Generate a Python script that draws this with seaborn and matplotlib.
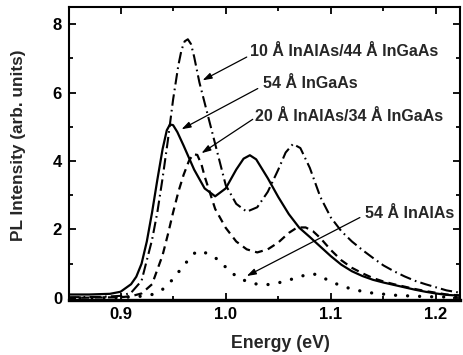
import matplotlib
matplotlib.use("Agg")
import matplotlib.pyplot as plt
import seaborn as sns
import pandas as pd
from matplotlib.ticker import MultipleLocator

# ---- data ----
e_solid = [0.85, 0.87, 0.89, 0.90, 0.91, 0.915, 0.92, 0.925, 0.93, 0.935, 0.94, 0.944, 0.947, 0.950,
           0.954, 0.96, 0.97, 0.98, 0.99, 1.00, 1.01, 1.017, 1.023, 1.029, 1.04, 1.05, 1.06, 1.07,
           1.08, 1.09, 1.10, 1.11, 1.12, 1.13, 1.14, 1.15, 1.16, 1.17, 1.18, 1.19, 1.20, 1.21, 1.225]
i_solid = [0.10, 0.10, 0.12, 0.18, 0.40, 0.62, 1.00, 1.65, 2.50, 3.45, 4.35, 4.90, 5.07, 5.05,
           4.85, 4.45, 3.75, 3.20, 2.97, 3.20, 3.75, 4.07, 4.17, 4.05, 3.50, 2.95, 2.45, 2.05,
           1.78, 1.50, 1.22, 0.97, 0.78, 0.64, 0.53, 0.45, 0.38, 0.31, 0.24, 0.18, 0.13, 0.09, 0.06]

e_dashdot = [0.85, 0.88, 0.90, 0.91, 0.92, 0.925, 0.93, 0.935, 0.94, 0.945, 0.95, 0.955, 0.958, 0.961,
             0.964, 0.967, 0.970, 0.975, 0.98, 0.99, 1.00, 1.01, 1.02, 1.03, 1.04, 1.05, 1.057, 1.064,
             1.071, 1.08, 1.09, 1.10, 1.11, 1.12, 1.13, 1.14, 1.15, 1.16, 1.17, 1.18, 1.19, 1.20,
             1.21, 1.225]
i_dashdot = [0.02, 0.03, 0.06, 0.15, 0.50, 1.10, 1.70, 2.50, 3.50, 4.60, 5.80, 6.80, 7.25, 7.50,
             7.56, 7.42, 7.05, 6.30, 5.70, 4.50, 3.30, 2.75, 2.52, 2.65, 3.10, 3.75, 4.25, 4.50,
             4.38, 3.80, 2.95, 2.35, 1.95, 1.65, 1.40, 1.17, 0.95, 0.78, 0.63, 0.50, 0.40, 0.31,
             0.22, 0.14]

e_dashed = [0.85, 0.90, 0.91, 0.92, 0.93, 0.94, 0.945, 0.95, 0.955, 0.96, 0.965, 0.969, 0.973, 0.977,
            0.98, 0.99, 1.00, 1.01, 1.02, 1.03, 1.04, 1.05, 1.06, 1.068, 1.076, 1.083, 1.09, 1.10,
            1.11, 1.12, 1.13, 1.14, 1.15, 1.16, 1.17, 1.18, 1.19, 1.20, 1.21, 1.225]
i_dashed = [0.00, 0.02, 0.05, 0.13, 0.40, 1.25, 1.85, 2.50, 3.10, 3.60, 4.00, 4.20, 4.18, 3.90,
            3.55, 2.60, 2.05, 1.65, 1.42, 1.33, 1.42, 1.62, 1.90, 2.06, 2.06, 1.95, 1.75, 1.40,
            1.10, 0.88, 0.72, 0.58, 0.48, 0.40, 0.33, 0.26, 0.20, 0.15, 0.10, 0.07]

e_dotted = [0.85, 0.90, 0.92, 0.93, 0.94, 0.95, 0.96, 0.97, 0.975, 0.98, 0.99, 1.00, 1.01, 1.02,
            1.03, 1.04, 1.05, 1.06, 1.07, 1.08, 1.085, 1.09, 1.10, 1.11, 1.12, 1.13, 1.14, 1.15,
            1.16, 1.18, 1.20, 1.225]
i_dotted = [0.00, 0.01, 0.05, 0.10, 0.25, 0.55, 0.95, 1.30, 1.38, 1.33, 1.18, 0.90, 0.63, 0.48,
            0.40, 0.39, 0.44, 0.52, 0.62, 0.70, 0.69, 0.63, 0.48, 0.35, 0.26, 0.19, 0.14, 0.11,
            0.08, 0.05, 0.03, 0.02]

labels = ["10 Å InAlAs/44 Å InGaAs", "54 Å InGaAs", "20 Å InAlAs/34 Å InGaAs", "54 Å InAlAs"]

x_ticks = [0.9, 1.0, 1.1, 1.2]
y_ticks = [0, 2, 4, 6, 8]

# ---- styling ----
sns.set_style("ticks")
plt.rcParams['font.family'] = ['Liberation Sans', 'DejaVu Sans']
plt.rcParams['font.weight'] = 'bold'

fig = plt.figure(figsize=(4.63, 3.55), dpi=100)
ax = fig.add_axes([0.149, 0.155, 0.845, 0.825])

series = [
    (e_dashdot, i_dashdot, labels[0], (0, (5.5, 2.0, 0.8, 2.0)), 1.5),
    (e_solid, i_solid, labels[1], '-', 1.6),
    (e_dashed, i_dashed, labels[2], (0, (3.6, 2.4)), 1.6),
    (e_dotted, i_dotted, labels[3], (0, (0.01, 3.6)), 2.4),
]
for ex, iy, lab, ls, lw in series:
    df = pd.DataFrame({"Energy": ex, "Intensity": iy})
    sns.lineplot(data=df, x="Energy", y="Intensity", ax=ax, color="black",
                 linewidth=lw, estimator=None, sort=True)
    ln = ax.lines[-1]
    ln.set_linestyle(ls)
    ln.set_dash_capstyle('round' if lw > 2 else 'butt')
    ln.set_solid_joinstyle('round')

ax.set_xlim(0.851, 1.223)
ax.set_ylim(-0.06, 8.5)
ax.set_xticks(x_ticks)
ax.set_yticks(y_ticks)
ax.set_xticklabels([f"{v:.1f}" for v in x_ticks])
ax.xaxis.set_minor_locator(MultipleLocator(0.05))
ax.yaxis.set_minor_locator(MultipleLocator(1))
ax.tick_params(which='both', direction='in', top=True, right=True, width=1.3, colors='black')
ax.tick_params(which='major', length=5, labelsize=12, pad=5)
ax.tick_params(which='minor', length=3)
for lab in ax.get_xticklabels() + ax.get_yticklabels():
    lab.set_fontweight('bold')
for side in ['left', 'top', 'right']:
    ax.spines[side].set_linewidth(1.5)
    ax.spines[side].set_color('black')
ax.spines['bottom'].set_linewidth(2.4)
ax.spines['bottom'].set_color('black')

ax.set_xlabel("Energy (eV)", fontsize=12.8, fontweight='bold')
ax.set_ylabel("PL Intensity (arb. units)", fontsize=12.4, fontweight='bold')
ax.xaxis.set_label_coords(0.54, -0.12)
ax.yaxis.set_label_coords(-0.11, 0.53)

# annotations: (text x, text y, arrow start, arrow head)
ann = [
    (1.0229, 7.19, (1.020, 7.04), (0.978, 6.36)),
    (1.0350, 6.26, (1.0305, 6.12), (0.958, 4.93)),
    (1.0276, 5.30, (1.0257, 5.22), (0.977, 4.23)),
    (1.1324, 2.46, (1.1276, 2.35), (1.020, 0.64)),
]
for lab, (tx, ty, st, hd) in zip(labels, ann):
    ax.text(tx, ty, lab, fontsize=11.5, fontweight='bold', ha='left', va='center')
    ax.annotate('', xy=hd, xytext=st,
                arrowprops=dict(arrowstyle='-|>,head_length=0.55,head_width=0.18',
                                lw=0.9, color='black', shrinkA=0, shrinkB=0))

fig.savefig("out.png", dpi=100)
